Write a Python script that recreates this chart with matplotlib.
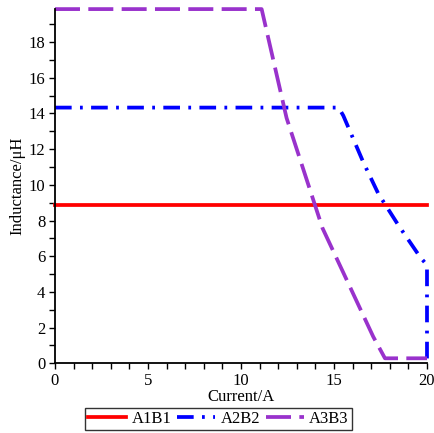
import matplotlib
matplotlib.use("Agg")
import matplotlib.pyplot as plt
from matplotlib.ticker import MultipleLocator

# Inductance vs current for three coil pairs
a1b1_i = [0, 20]
a1b1_l = [8.85, 8.85]

a2b2_i = [0, 15.25, 15.5, 16.57, 17.38, 18.46, 19.62, 20, 20]
a2b2_l = [14.33, 14.33, 13.88, 11.28, 9.51, 7.74, 5.97, 5.5, 0.0]

a3b3_i = [0, 11.11, 12.45, 14.38, 17.11, 17.74, 20]
a3b3_l = [19.85, 19.85, 13.75, 7.58, 1.49, 0.28, 0.28]

labels = ["A1B1", "A2B2", "A3B3"]

plt.rcParams['font.family'] = ['Liberation Serif', 'DejaVu Serif']
plt.rcParams['font.size'] = 12
plt.rcParams['lines.scale_dashes'] = False

fig = plt.figure(figsize=(4.35, 4.33), dpi=100)
ax = fig.add_axes([0.1264, 0.161, 0.8552, 0.818])

ax.plot(a1b1_i, a1b1_l, color='#ff0000', lw=2.7, label=labels[0], clip_on=False)
ax.plot(a2b2_i, a2b2_l, color='#0000ff', lw=2.7, label=labels[1], clip_on=False,
        dashes=(12, 6, 2, 6))
ax.plot(a3b3_i, a3b3_l, color='#9932cc', lw=2.7, label=labels[2], clip_on=False,
        dashes=(18, 6))

ax.set_xlim(0, 20)
ax.set_ylim(0, 19.85)
ax.xaxis.set_major_locator(MultipleLocator(5))
ax.xaxis.set_minor_locator(MultipleLocator(1))
ax.yaxis.set_major_locator(MultipleLocator(2))
ax.yaxis.set_minor_locator(MultipleLocator(1))
ax.tick_params(which='both', direction='out', length=4, width=1, pad=3)

for s in ['top', 'right']:
    ax.spines[s].set_visible(False)
for s in ['left', 'bottom']:
    ax.spines[s].set_linewidth(1.3)

ax.set_xlabel("Current/A", labelpad=0)
ax.set_ylabel("Inductance/μH", labelpad=2)

leg = fig.legend(loc='center', bbox_to_anchor=(0.502, 0.032), ncol=3,
                 frameon=True, fancybox=False, edgecolor='black',
                 handlelength=2.3, columnspacing=0.35, handletextpad=0.3,
                 borderpad=0.2, borderaxespad=0)
leg.get_frame().set_linewidth(1.0)

fig.savefig("out.png", dpi=100)
